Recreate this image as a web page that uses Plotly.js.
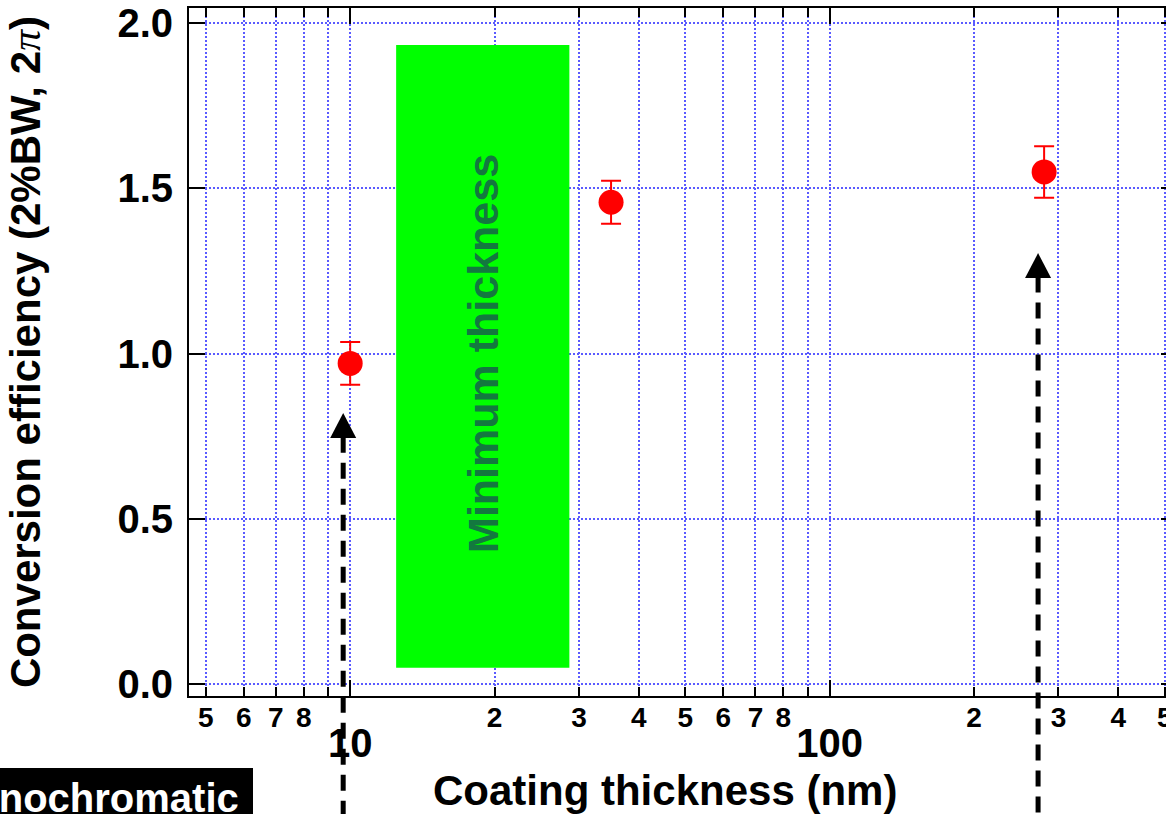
<!DOCTYPE html>
<html>
<head>
<meta charset="utf-8">
<script src="https://cdn.plot.ly/plotly-3.0.1.min.js"></script>
<style>
  html, body { margin: 0; padding: 0; overflow: hidden; background: #fff; }
  #chart { width: 1177px; height: 814px; }
</style>
</head>
<body>
<div id="chart"></div>
<script>
// ---- data ----
const thickness = [10.0, 35.0, 280];          // nm
const efficiency = [0.970, 1.458, 1.550];     // conversion efficiency
const effError = [0.065, 0.065, 0.078];

const minBandX = [12.47, 28.65];              // "Minimum thickness" band (nm)
const minBandY = [0.048, 1.934];

const arrowX = [9.67, 272];                   // dashed arrows (nm)
const arrowTipY = [0.82, 1.304];
const arrowBaseY = [0.744, 1.229];

const minorTickVals = [5, 6, 7, 8, 9, 10, 20, 30, 40, 50, 60, 70, 80, 90, 100, 200, 300, 400, 500];
const minorTickText = ['5', '6', '7', '8', '', '', '2', '3', '4', '5', '6', '7', '8', '', '', '2', '3', '4', '5'];
const majorTickVals = [10, 100];
const majorTickText = ['10', '100'];
const yTickVals = [0, 0.5, 1.0, 1.5, 2.0];
const yTickText = ['0.0', '0.5', '1.0', '1.5', '2.0'];

const xTitle = 'Coating thickness (nm)';
const yTitle = 'Conversion efficiency (2%BW, 2<span style="font-family:\'Liberation Serif\', \'Times New Roman\', serif;font-style:italic;font-weight:normal">π</span>)';
const boxLabel = 'Monochromatic';
const bandLabel = 'Minimum thickness';

const xRangeNm = [4.612, 530];
const yRange = [-0.0372, 2.0463];

// ---- layout helpers ----
const W = 1177, H = 814;
const M = { l: 189, r: 0, t: 8, b: 118 };
const plotW = W - M.l - M.r, plotH = H - M.t - M.b;
const xr = xRangeNm.map(Math.log10);
const xPaper = v => (Math.log10(v) - xr[0]) / (xr[1] - xr[0]);
const yPaper = v => (v - yRange[0]) / (yRange[1] - yRange[0]);
const pxToPaperX = px => (px - M.l) / plotW;
const pxToPaperY = py => (H - M.b - py) / plotH;

const FONT = 'Liberation Sans, Arial, Helvetica, sans-serif';
const gridColor = '#5a5aff';

const shapes = [
  {
    type: 'rect', xref: 'x', yref: 'y', layer: 'above',
    x0: minBandX[0], x1: minBandX[1], y0: minBandY[0], y1: minBandY[1],
    fillcolor: '#00ff00', line: { width: 0 }
  }
];
const halfW = 13 / plotW;
arrowX.forEach((xv, i) => {
  const xp = xPaper(xv);
  shapes.push({
    type: 'line', xref: 'paper', yref: 'paper',
    x0: xp, x1: xp, y0: yPaper(arrowBaseY[i]) + 0.002, y1: pxToPaperY(H + 20),
    line: { color: '#000', width: 5, dash: '16px,10px' }
  });
  const yt = yPaper(arrowTipY[i]), yb = yPaper(arrowBaseY[i]);
  shapes.push({
    type: 'path', xref: 'paper', yref: 'paper',
    path: `M ${xp - halfW} ${yb} L ${xp + halfW} ${yb} L ${xp} ${yt} Z`,
    fillcolor: '#000', line: { width: 0 }
  });
});
// black label box at lower left
shapes.push({
  type: 'rect', xref: 'paper', yref: 'paper',
  x0: pxToPaperX(-10), x1: pxToPaperX(253), y0: pxToPaperY(H + 10), y1: pxToPaperY(768),
  fillcolor: '#000', line: { width: 0 }
});

const annotations = [
  {
    xref: 'x', yref: 'y',
    x: (Math.log10(minBandX[0]) + Math.log10(minBandX[1])) / 2,
    y: (minBandY[0] + minBandY[1]) / 2 + 0.01,
    text: bandLabel, showarrow: false, textangle: -90,
    font: { family: FONT, size: 43, color: '#13783f', weight: 'bold' }
  },
  {
    xref: 'paper', yref: 'paper', x: pxToPaperX(241), y: pxToPaperY(798),
    xanchor: 'right', yanchor: 'middle',
    text: boxLabel, showarrow: false,
    font: { family: FONT, size: 40, color: '#ffffff', weight: 'bold' }
  },
  {
    xref: 'paper', yref: 'paper', x: pxToPaperX(665), y: pxToPaperY(791),
    xanchor: 'center', yanchor: 'middle',
    text: xTitle, showarrow: false,
    font: { family: FONT, size: 42, color: '#000', weight: 'bold' }
  }
];

const traces = [
  {
    type: 'scatter', mode: 'markers',
    x: thickness, y: efficiency,
    marker: { color: '#ff0000', size: 25 },
    error_y: { type: 'data', array: effError, visible: true, color: '#ff0000', thickness: 2, width: 10 },
    showlegend: false, hoverinfo: 'x+y'
  },
  { type: 'scatter', x: [], y: [], xaxis: 'x2', yaxis: 'y', showlegend: false }
];

const axisCommon = {
  showline: true, linecolor: '#000', linewidth: 2,
  ticks: 'inside', tickcolor: '#000', tickwidth: 2,
  mirror: 'ticks', zeroline: false
};

const layout = {
  width: W, height: H, margin: M,
  paper_bgcolor: '#fff', plot_bgcolor: '#fff',
  font: { family: FONT, color: '#000' },
  showlegend: false,
  xaxis: Object.assign({}, axisCommon, {
    type: 'log', range: xr,
    tickmode: 'array', tickvals: minorTickVals, ticktext: minorTickText,
    ticklen: 9, tickangle: 0, ticklabelstandoff: -5,
    tickfont: { family: FONT, size: 28, weight: 'bold' },
    showgrid: true, gridcolor: gridColor, gridwidth: 2, griddash: '2px,2px'
  }),
  xaxis2: Object.assign({}, axisCommon, {
    type: 'log', range: xr, overlaying: 'x', anchor: 'y', side: 'bottom',
    tickmode: 'array', tickvals: majorTickVals, ticktext: majorTickText,
    ticklen: 16, tickangle: 0, ticklabelstandoff: 11,
    tickfont: { family: FONT, size: 40, weight: 'bold' },
    showgrid: false
  }),
  yaxis: Object.assign({}, axisCommon, {
    range: yRange,
    tickmode: 'array', tickvals: yTickVals, ticktext: yTickText,
    ticklen: 16, ticklabelstandoff: 6,
    tickfont: { family: FONT, size: 40, weight: 'bold' },
    showgrid: true, gridcolor: gridColor, gridwidth: 2, griddash: '2px,2px',
    title: {
      text: yTitle,
      font: { family: FONT, size: 42, weight: 'bold' }, standoff: 64
    }
  }),
  shapes: shapes,
  annotations: annotations
};

Plotly.newPlot('chart', traces, layout, { displayModeBar: false, staticPlot: true });
</script>
</body>
</html>
